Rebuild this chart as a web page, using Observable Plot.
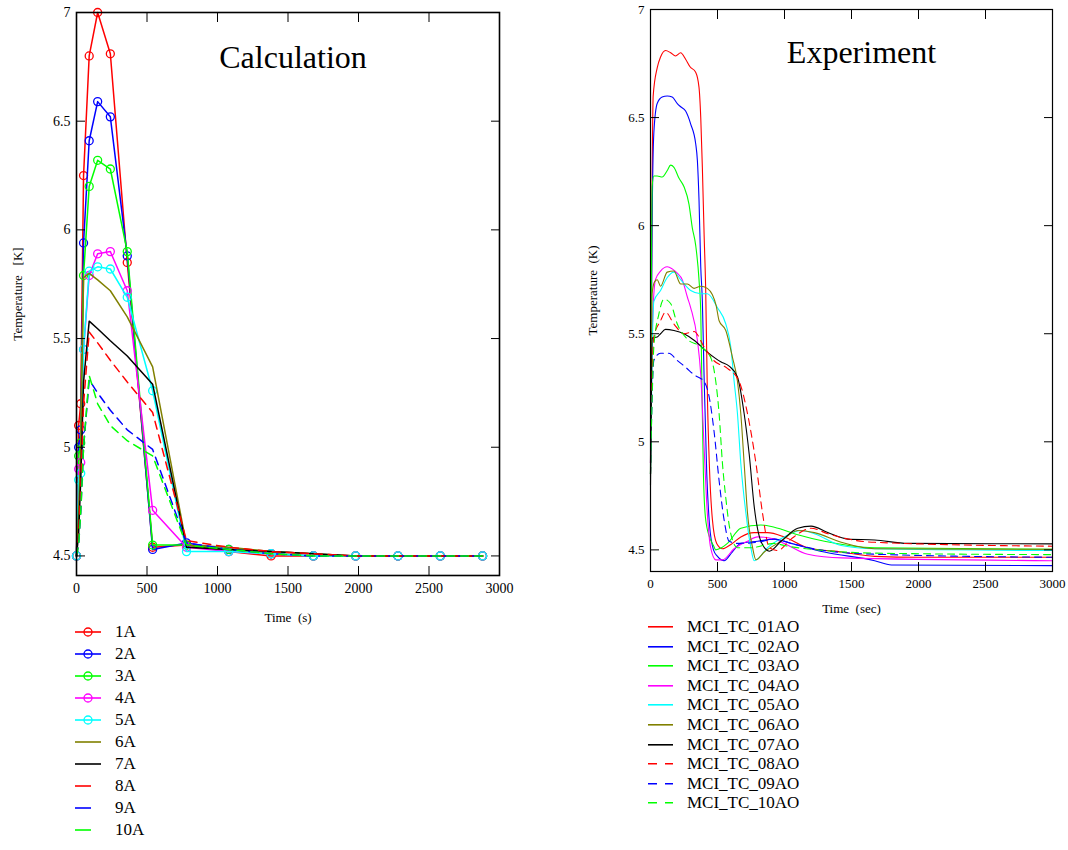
<!DOCTYPE html>
<html>
<head>
<meta charset="utf-8">
<script src="https://cdn.jsdelivr.net/npm/d3@7"></script>
<script src="https://cdn.jsdelivr.net/npm/@observablehq/plot@0.6"></script>
<style>
  html, body { margin: 0; padding: 0; background: white; }
  #wrap { position: relative; width: 1068px; height: 850px; background: white; font-family: 'Liberation Serif', 'Times New Roman', serif; }
  .leg { position: absolute; }
  .row { display: flex; align-items: center; }
  .row span { color: #000; }
  svg text { font-family: 'Liberation Serif', 'Times New Roman', serif; }
</style>
</head>
<body>
<div id="wrap">
  <div id="left" style="position:absolute;left:0;top:0"></div>
  <div id="right" style="position:absolute;left:560px;top:0"></div>
  <div id="legL" class="leg" style="left:70px;top:621px"></div>
  <div id="legR" class="leg" style="left:640px;top:617px"></div>
</div>
<script>
// ---------- Calculation data ----------
const calcTimes = [0, 15, 30, 50, 90, 150, 240, 360, 540, 780, 1080, 1380, 1680, 1980, 2280, 2580, 2880];
const calc1A  = [4.5, 5.10, 5.20, 6.25, 6.80, 7.00, 6.81, 5.85, 4.54, 4.55, 4.52, 4.50, 4.50, 4.50, 4.50, 4.50, 4.50];
const calc2A  = [4.5, 5.00, 5.08, 5.94, 6.41, 6.59, 6.52, 5.88, 4.53, 4.56, 4.53, 4.51, 4.50, 4.50, 4.50, 4.50, 4.50];
const calc3A  = [4.5, 4.96, 5.02, 5.79, 6.20, 6.32, 6.28, 5.90, 4.55, 4.55, 4.53, 4.51, 4.50, 4.50, 4.50, 4.50, 4.50];
const calc4A  = [4.5, 4.90, 4.93, 5.45, 5.79, 5.89, 5.90, 5.72, 4.71, 4.54, 4.52, 4.51, 4.50, 4.50, 4.50, 4.50, 4.50];
const calc5A  = [4.5, 4.85, 4.88, 5.45, 5.81, 5.83, 5.82, 5.69, 5.26, 4.52, 4.52, 4.51, 4.50, 4.50, 4.50, 4.50, 4.50];
const calc6A  = [4.5, 4.70, 5.00, 5.78, 5.80, 5.77, 5.72, 5.60, 5.37, 4.55, 4.54, 4.52, 4.51, 4.50, 4.50, 4.50, 4.50];
const calc7A  = [4.5, 4.60, 4.85, 5.30, 5.58, 5.545, 5.49, 5.42, 5.29, 4.54, 4.53, 4.52, 4.51, 4.50, 4.50, 4.50, 4.50];
const calc8A  = [4.5, 4.60, 4.80, 5.20, 5.53, 5.48, 5.40, 5.30, 5.16, 4.57, 4.54, 4.52, 4.51, 4.50, 4.50, 4.50, 4.50];
const calc9A  = [4.5, 4.55, 4.70, 5.00, 5.31, 5.25, 5.17, 5.08, 4.99, 4.56, 4.53, 4.51, 4.50, 4.50, 4.50, 4.50, 4.50];
const calc10A = [4.5, 4.55, 4.70, 5.00, 5.33, 5.20, 5.10, 5.03, 4.96, 4.55, 4.53, 4.51, 4.50, 4.50, 4.50, 4.50, 4.50];
const calcNames = ["1A","2A","3A","4A","5A","6A","7A","8A","9A","10A"];

// ---------- Experiment data ([time s, temperature K]) ----------
const tc01 = [[0,4.9],[12,6.2],[20,6.6],[50,6.73],[75,6.78],[112,6.81],[150,6.80],[187,6.785],[225,6.80],[262,6.77],[295,6.735],[337,6.71],[362,6.64],[375,6.50],[387,6.27],[400,5.96],[412,5.70],[425,5.2],[440,4.88],[462,4.64],[494,4.53],[537,4.505],[600,4.525],[674,4.56],[774,4.58],[874,4.58],[999,4.56],[1174,4.51],[1428,4.49],[1673,4.47],[2000,4.466],[3000,4.466]];
const tc02 = [[0,4.9],[12,6.0],[25,6.43],[50,6.565],[87,6.595],[125,6.60],[162,6.595],[200,6.565],[225,6.55],[262,6.53],[300,6.47],[337,6.38],[350,6.30],[362,6.12],[375,5.81],[387,5.65],[400,5.3],[420,4.85],[440,4.62],[470,4.50],[500,4.47],[549,4.45],[610,4.49],[674,4.53],[800,4.54],[924,4.55],[1049,4.53],[1298,4.49],[1673,4.45],[1798,4.43],[3000,4.427]];
const tc03 = [[0,4.85],[8,5.9],[12,6.18],[25,6.23],[50,6.23],[87,6.225],[125,6.255],[150,6.28],[175,6.27],[212,6.22],[250,6.18],[287,6.10],[312,5.99],[337,5.91],[362,5.75],[375,5.60],[385,5.2],[395,4.85],[410,4.65],[440,4.56],[470,4.52],[487,4.50],[530,4.51],[574,4.53],[674,4.60],[824,4.615],[924,4.605],[1099,4.57],[1298,4.54],[1673,4.51],[3000,4.503]];
const tc04 = [[0,4.9],[12,5.5],[37,5.75],[75,5.79],[125,5.81],[162,5.80],[200,5.78],[237,5.75],[275,5.67],[300,5.62],[350,5.47],[375,5.31],[400,4.975],[424,4.67],[449,4.51],[487,4.454],[537,4.454],[624,4.505],[724,4.54],[799,4.56],[924,4.55],[999,4.53],[1174,4.48],[1428,4.463],[3000,4.45]];
const tc05 = [[0,4.85],[12,5.4],[25,5.65],[75,5.70],[125,5.76],[175,5.785],[225,5.75],[300,5.70],[375,5.685],[424,5.685],[500,5.62],[562,5.545],[599,5.44],[624,5.28],[649,5.13],[674,4.90],[712,4.67],[749,4.51],[774,4.45],[799,4.458],[874,4.51],[999,4.56],[1124,4.59],[1223,4.575],[1423,4.52],[1673,4.505],[3000,4.497]];
const tc06 = [[0,4.85],[8,5.5],[12,5.685],[30,5.74],[50,5.75],[75,5.72],[125,5.785],[175,5.79],[225,5.73],[275,5.73],[325,5.71],[375,5.72],[424,5.71],[462,5.68],[490,5.63],[512,5.56],[562,5.515],[612,5.39],[649,5.28],[674,5.13],[699,4.90],[724,4.67],[762,4.51],[787,4.454],[849,4.49],[974,4.54],[1099,4.59],[1223,4.58],[1423,4.535],[1673,4.505],[3000,4.503]];
const tc07 = [[0,4.8],[8,5.3],[12,5.48],[50,5.485],[75,5.50],[112,5.52],[175,5.515],[250,5.50],[325,5.47],[424,5.415],[524,5.37],[587,5.35],[649,5.30],[699,5.13],[737,4.94],[774,4.70],[824,4.54],[887,4.494],[974,4.54],[1099,4.60],[1198,4.61],[1323,4.58],[1473,4.55],[1673,4.546],[1922,4.53],[3000,4.528]];
const tc08 = [[0,4.85],[12,5.3],[25,5.485],[75,5.56],[112,5.60],[175,5.545],[250,5.50],[325,5.51],[399,5.44],[474,5.375],[574,5.34],[661,5.28],[724,5.13],[787,4.90],[836,4.67],[887,4.51],[949,4.497],[1049,4.55],[1198,4.60],[1323,4.575],[1473,4.55],[1673,4.535],[3000,4.517]];
const tc09 = [[0,4.85],[12,5.2],[25,5.376],[75,5.41],[137,5.41],[200,5.376],[262,5.345],[325,5.31],[399,5.28],[437,5.21],[474,5.05],[512,4.82],[549,4.64],[587,4.54],[649,4.53],[799,4.535],[924,4.55],[1049,4.53],[1298,4.497],[1673,4.48],[3000,4.466]];
const tc10 = [[0,4.85],[12,5.2],[25,5.44],[62,5.59],[100,5.66],[150,5.64],[200,5.545],[275,5.475],[375,5.44],[449,5.39],[487,5.28],[512,5.13],[537,4.90],[562,4.74],[599,4.575],[649,4.51],[749,4.51],[924,4.53],[999,4.52],[1298,4.497],[1673,4.485],[3000,4.478]];
const expNames = ["MCI_TC_01AO","MCI_TC_02AO","MCI_TC_03AO","MCI_TC_04AO","MCI_TC_05AO","MCI_TC_06AO","MCI_TC_07AO","MCI_TC_08AO","MCI_TC_09AO","MCI_TC_10AO"];

// ---------- ticks ----------
const xTicks = [0, 500, 1000, 1500, 2000, 2500, 3000];
const yTicks = [4.5, 5, 5.5, 6, 6.5, 7];

// ---------- styles ----------
const colors = ["#ff0000","#0000ff","#00ff00","#ff00ff","#00ffff","#808000","#000000","#ff0000","#0000ff","#00ff00"];
const dashed = [false,false,false,false,false,false,false,true,true,true];
const withMarker = [true,true,true,true,true,false,false,false,false,false];
const serif = "'Liberation Serif', 'Times New Roman', serif";

const calcValues = [calc1A, calc2A, calc3A, calc4A, calc5A, calc6A, calc7A, calc8A, calc9A, calc10A];
const expValues = [tc01, tc02, tc03, tc04, tc05, tc06, tc07, tc08, tc09, tc10];

function frameAxes(opts) {
  const fmt = d => String(d);
  return [
    Plot.frame({stroke: "black", strokeWidth: opts.frameWidth}),
    Plot.axisX({anchor: "bottom", ticks: xTicks, tickSize: -9, tickPadding: opts.xPad, tickFormat: fmt, fontSize: opts.tickFont, fontFamily: serif, label: null}),
    Plot.axisX({anchor: "top", ticks: xTicks, tickSize: -9, tickFormat: () => "", label: null}),
    Plot.axisY({anchor: "left", ticks: yTicks, tickSize: -9, tickPadding: opts.yPad, tickFormat: fmt, fontSize: opts.tickFont, fontFamily: serif, label: null}),
    Plot.axisY({anchor: "right", ticks: yTicks, tickSize: -9, tickFormat: () => "", label: null}),
    Plot.axisX({anchor: "bottom", ticks: [], tickSize: 0, label: opts.xLabel, labelArrow: false, labelAnchor: "center", labelOffset: opts.xLabelOffset, fontSize: 13, fontFamily: serif}),
    Plot.axisY({anchor: "left", ticks: [], tickSize: 0, label: opts.yLabel, labelArrow: false, labelAnchor: "center", labelOffset: opts.yLabelOffset, fontSize: 13, fontFamily: serif})
  ];
}

// ---------- Calculation plot ----------
const calcMarks = [];
calcValues.forEach((vals, i) => {
  const data = calcTimes.map((t, j) => ({t, v: vals[j]}));
  calcMarks.push(Plot.line(data, {x: "t", y: "v", stroke: colors[i], strokeWidth: 1.5, strokeDasharray: dashed[i] ? "8,6" : null}));
  if (withMarker[i]) calcMarks.push(Plot.dot(data, {x: "t", y: "v", r: 4, stroke: colors[i], strokeWidth: 1.3, fill: "none"}));
});

const left = Plot.plot({
  width: 520, height: 625,
  marginLeft: 76, marginRight: 21, marginTop: 12, marginBottom: 50,
  x: {domain: [0, 3000]},
  y: {domain: [4.41, 7]},
  style: {background: "white", fontFamily: serif, fontSize: "14px", color: "black"},
  marks: [
    ...calcMarks,
    ...frameAxes({frameWidth: 1.6, xPad: 17, yPad: 15, tickFont: 14, xLabel: "Time\u00a0\u00a0(s)", xLabelOffset: 46, yLabel: "Temperature\u00a0\u00a0\u00a0[K]", yLabelOffset: 64}),
    Plot.text(["Calculation"], {frameAnchor: "top", dx: 5, dy: 45, lineAnchor: "middle", fontSize: 32, fontFamily: serif, fill: "black"})
  ]
});
document.getElementById("left").appendChild(left);

// ---------- Experiment plot ----------
const expMarks = [];
expValues.forEach((pts, i) => {
  const data = pts.map(([t, v]) => ({t, v}));
  expMarks.push(Plot.line(data, {x: "t", y: "v", stroke: colors[i], strokeWidth: 1.1, curve: "monotone-x", strokeDasharray: dashed[i] ? "7,5" : null}));
});

const right = Plot.plot({
  width: 508, height: 620,
  marginLeft: 90, marginRight: 16, marginTop: 9, marginBottom: 49,
  x: {domain: [0, 3000]},
  y: {domain: [4.4, 7]},
  style: {background: "white", fontFamily: serif, fontSize: "13px", color: "black"},
  marks: [
    ...expMarks,
    ...frameAxes({frameWidth: 1.2, xPad: 16, yPad: 15, tickFont: 13, xLabel: "Time\u00a0\u00a0(sec)", xLabelOffset: 41, yLabel: "Temperature\u00a0\u00a0(K)", yLabelOffset: 63}),
    Plot.text(["Experiment"], {frameAnchor: "top", dx: 10, dy: 43, lineAnchor: "middle", fontSize: 32, fontFamily: serif, fill: "black"})
  ]
});
document.getElementById("right").appendChild(right);

// ---------- Legends ----------
function legend(el, names, rowH, fontSize, lineX1, lineX2, textLeft, showMarkers, dash) {
  names.forEach((name, i) => {
    const row = document.createElement("div");
    row.className = "row";
    row.style.height = rowH + "px";
    const w = textLeft;
    let svg = `<svg width="${w}" height="${rowH}" style="flex:none">`;
    const y = rowH / 2;
    svg += `<line x1="${lineX1}" x2="${lineX2}" y1="${y}" y2="${y}" stroke="${colors[i]}" stroke-width="1.6"${dashed[i] ? ` stroke-dasharray="${dash}"` : ""}/>`;
    if (showMarkers && withMarker[i]) svg += `<circle cx="${(lineX1 + lineX2) / 2}" cy="${y}" r="4" fill="none" stroke="${colors[i]}" stroke-width="1.3"/>`;
    svg += `</svg>`;
    row.innerHTML = svg + `<span style="font-size:${fontSize}px;line-height:${rowH}px">${name}</span>`;
    el.appendChild(row);
  });
}
legend(document.getElementById("legL"), calcNames, 22, 17, 5, 31, 45, true, "16,40");
legend(document.getElementById("legR"), expNames, 19.6, 17, 8, 33, 47, false, "9,8");
</script>
</body>
</html>
